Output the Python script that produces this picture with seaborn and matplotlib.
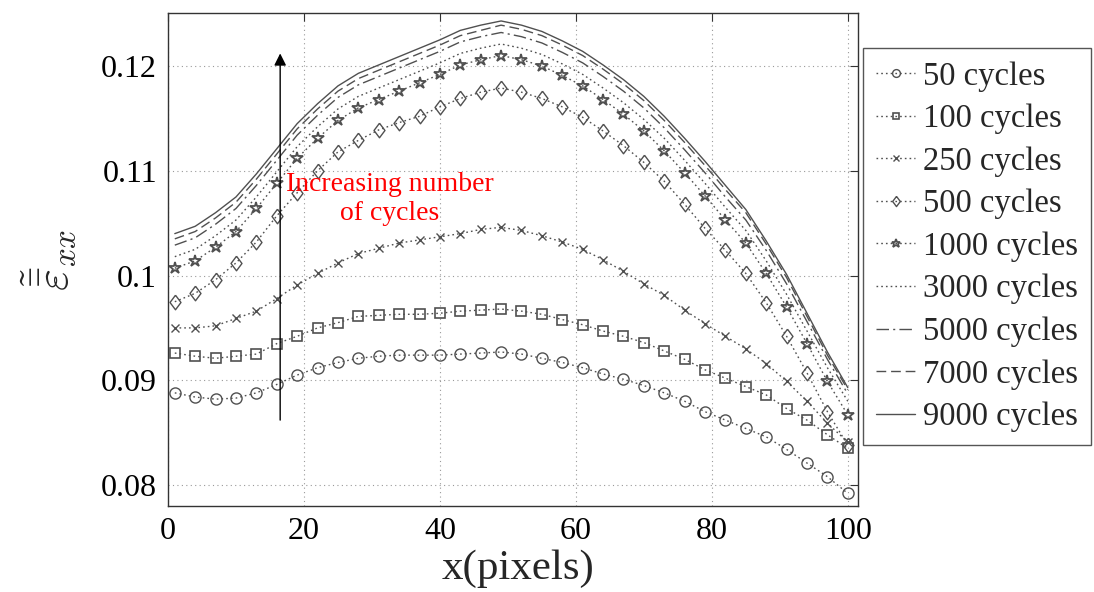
import matplotlib
matplotlib.use("Agg")
import matplotlib.pyplot as plt
import seaborn as sns
import numpy as np
import pandas as pd

# ---------------- data ----------------
x_pixels = [1, 4, 7, 10, 13, 16, 19, 22, 25, 28, 31, 34, 37, 40, 43, 46, 49,
            52, 55, 58, 61, 64, 67, 70, 73, 76, 79, 82, 85, 88, 91, 94, 97, 100]

cycles_50 = [0.0888, 0.0884, 0.0882, 0.0883, 0.0888, 0.0896, 0.0905, 0.0912, 0.0917, 0.0921,
             0.0923, 0.0924, 0.0924, 0.0924, 0.0925, 0.0926, 0.0927, 0.0925, 0.0921, 0.0917,
             0.0912, 0.0906, 0.0901, 0.0895, 0.0888, 0.0880, 0.0870,
             0.0862, 0.0854, 0.0846, 0.0834, 0.0821, 0.0808, 0.0792]
cycles_100 = [0.0926, 0.0923, 0.0921, 0.0923, 0.0925, 0.0935, 0.0942, 0.0950, 0.0955, 0.0961,
              0.0962, 0.0963, 0.0963, 0.0964, 0.0966, 0.0967, 0.0968, 0.0966, 0.0963, 0.0958,
              0.0953, 0.0947, 0.0942, 0.0936, 0.0928, 0.0920, 0.0910,
              0.0902, 0.0894, 0.0886, 0.0873, 0.0862, 0.0848, 0.0835]
cycles_250 = [0.0950, 0.0950, 0.0952, 0.0959, 0.0966, 0.0978, 0.0991, 0.1002, 0.1012, 0.1021,
              0.1026, 0.1031, 0.1034, 0.1037, 0.1040, 0.1044, 0.1046, 0.1043, 0.1038, 0.1032,
              0.1025, 0.1015, 0.1004, 0.0992, 0.0981, 0.0967, 0.0954,
              0.0942, 0.0930, 0.0916, 0.0899, 0.0880, 0.0859, 0.0841]
cycles_500 = [0.0975, 0.0983, 0.0996, 0.1012, 0.1032, 0.1057, 0.1079, 0.1100, 0.1118, 0.1129,
              0.1139, 0.1146, 0.1152, 0.1161, 0.1169, 0.1175, 0.1179, 0.1175, 0.1169, 0.1161,
              0.1151, 0.1138, 0.1124, 0.1108, 0.1090, 0.1068, 0.1045,
              0.1024, 0.1002, 0.0974, 0.0942, 0.0907, 0.0870, 0.0838]
cycles_1000 = [0.1007, 0.1014, 0.1027, 0.1042, 0.1064, 0.1088, 0.1112, 0.1131, 0.1148, 0.1160,
               0.1168, 0.1176, 0.1184, 0.1192, 0.1201, 0.1206, 0.1210, 0.1206, 0.1200, 0.1191,
               0.1181, 0.1168, 0.1154, 0.1138, 0.1119, 0.1098, 0.1076,
               0.1053, 0.1031, 0.1002, 0.0970, 0.0935, 0.0899, 0.0867]
cycles_3000 = [0.1018, 0.1025, 0.1038, 0.1053, 0.1075, 0.1099, 0.1123, 0.1142, 0.1159, 0.1171,
               0.1179, 0.1187, 0.1195, 0.1203, 0.1212, 0.1217, 0.1221, 0.1217, 0.1211, 0.1202,
               0.1192, 0.1179, 0.1165, 0.1149, 0.1131, 0.1110, 0.1088,
               0.1065, 0.1043, 0.1014, 0.0982, 0.0947, 0.0912, 0.0880]
cycles_5000 = [0.1029, 0.1036, 0.1049, 0.1064, 0.1086, 0.1110, 0.1134, 0.1153, 0.1170, 0.1182,
               0.1190, 0.1198, 0.1206, 0.1214, 0.1223, 0.1228, 0.1232, 0.1228, 0.1222, 0.1213,
               0.1203, 0.1190, 0.1176, 0.1160, 0.1141, 0.1120, 0.1098,
               0.1075, 0.1053, 0.1024, 0.0992, 0.0956, 0.0920, 0.0887]
cycles_7000 = [0.1035, 0.1042, 0.1055, 0.1070, 0.1092, 0.1116, 0.1140, 0.1159, 0.1176, 0.1188,
               0.1196, 0.1204, 0.1212, 0.1220, 0.1229, 0.1234, 0.1239, 0.1235, 0.1229, 0.1220,
               0.1210, 0.1197, 0.1183, 0.1167, 0.1148, 0.1127, 0.1105,
               0.1082, 0.1060, 0.1030, 0.0998, 0.0961, 0.0924, 0.0891]
cycles_9000 = [0.1040, 0.1047, 0.1060, 0.1075, 0.1097, 0.1121, 0.1145, 0.1164, 0.1181, 0.1193,
               0.1201, 0.1209, 0.1217, 0.1225, 0.1234, 0.1239, 0.1243, 0.1239, 0.1233, 0.1224,
               0.1214, 0.1201, 0.1187, 0.1171, 0.1152, 0.1131, 0.1109,
               0.1086, 0.1063, 0.1033, 0.1001, 0.0964, 0.0927, 0.0893]

series_labels = ["50 cycles", "100 cycles", "250 cycles", "500 cycles", "1000 cycles",
                 "3000 cycles", "5000 cycles", "7000 cycles", "9000 cycles"]
series_values = [cycles_50, cycles_100, cycles_250, cycles_500, cycles_1000,
                 cycles_3000, cycles_5000, cycles_7000, cycles_9000]

x_ticks = [0, 20, 40, 60, 80, 100]
y_ticks = [0.08, 0.09, 0.1, 0.11, 0.12]
y_tick_labels = ["0.08", "0.09", "0.1", "0.11", "0.12"]

# ---------------- style ----------------
sns.set_theme(style="white")
plt.rcParams["font.family"] = ["Liberation Serif", "DejaVu Serif"]
plt.rcParams["mathtext.fontset"] = "cm"

line_color = "#505050"
dot_ls = (0, (1.2, 2.2))
diamond = [(0, 1), (0.75, 0), (0, -1), (-0.75, 0), (0, 1)]
styles = [
    dict(marker="o", linestyle=dot_ls, markersize=8, mew=1.0),
    dict(marker="s", linestyle=dot_ls, markersize=6.5, mew=1.2),
    dict(marker="x", linestyle=dot_ls, markersize=5.5, mew=1.0),
    dict(marker=diamond, linestyle=dot_ls, markersize=10.5, mew=1.0),
    dict(marker="*", linestyle=dot_ls, markersize=9, mew=1.3),
    dict(marker=None, linestyle=dot_ls, markersize=0, mew=0),
    dict(marker=None, linestyle=(0, (9, 3, 1.5, 3)), markersize=0, mew=0),
    dict(marker=None, linestyle=(0, (7, 3.5)), markersize=0, mew=0),
    dict(marker=None, linestyle="-", markersize=0, mew=0),
]

fig = plt.figure(figsize=(10.94, 5.92), dpi=100)
ax = fig.add_axes([168 / 1094, 1 - 506 / 592, 690 / 1094, 493 / 592])

for lab, vals, st in zip(series_labels, series_values, styles):
    df = pd.DataFrame({"x": x_pixels, "y": vals})
    kw = dict(linestyle=st["linestyle"], color=line_color, linewidth=1.0)
    if st["marker"] is not None:
        kw.update(marker=st["marker"], markersize=st["markersize"],
                  markerfacecolor="none", markeredgecolor=line_color,
                  markeredgewidth=st["mew"])
    sns.lineplot(data=df, x="x", y="y", ax=ax, label=lab, **kw)

ax.set_xlim(0, 101.5)
ax.set_ylim(0.078, 0.12506)
ax.set_xticks(x_ticks)
ax.set_xticklabels([str(t) for t in x_ticks])
ax.set_yticks(y_ticks)
ax.set_yticklabels(y_tick_labels)

ax.grid(True, linestyle=(0, (1, 3)), color="#9a9a9a", linewidth=0.8)
ax.tick_params(direction="in", length=6, width=0.8, top=True, right=True,
               labelsize=23, pad=8, colors="#333333", labelcolor="black")
for sp in ax.spines.values():
    sp.set_color("#333333")
    sp.set_linewidth(1.0)

ax.set_xlabel("x(pixels)", fontsize=31, va="top")
ax.xaxis.set_label_coords(0.507, -0.088)
ax.set_ylabel(r"$\tilde{\bar{\bar{\varepsilon}}}_{xx}$", fontsize=34)
ax.yaxis.set_label_coords(-0.13, 0.5)

# arrow & annotation
ax.annotate("", xy=(16.5, 0.1212), xytext=(16.5, 0.0862),
            arrowprops=dict(arrowstyle="-|>", color="black", lw=1.0,
                            mutation_scale=18, shrinkA=0, shrinkB=0))
ax.text(32.6, 0.1073, "Increasing number\nof cycles", color="red",
        fontsize=20, ha="center", va="center", multialignment="center",
        linespacing=1.2)

leg = ax.legend(loc="upper left", bbox_to_anchor=(863 / 1094, 1 - 48 / 592),
                bbox_transform=fig.transFigure, borderaxespad=0,
                fontsize=23.5, frameon=True, fancybox=False, framealpha=1,
                edgecolor="#555555", handlelength=1.2, handletextpad=0.25,
                labelspacing=0.37, borderpad=0.4, markerscale=0.7)
leg.get_frame().set_linewidth(1.0)

fig.savefig("out.png", dpi=100)
